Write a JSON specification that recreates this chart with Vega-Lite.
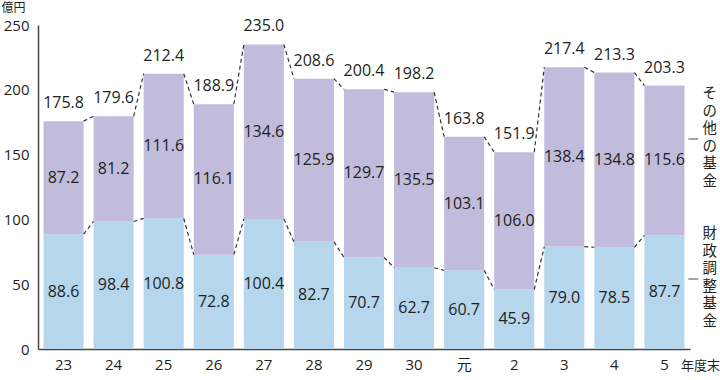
{
  "$schema": "https://vega.github.io/schema/vega-lite/v6.json",
  "width": 652,
  "height": 324,
  "autosize": {"type": "none"},
  "padding": {"left": 38, "top": 25, "right": 30, "bottom": 31},
  "config": {
    "view": {"stroke": null},
    "font": "Open Sans, Noto Sans CJK JP, sans-serif",
    "axis": {"grid": false, "ticks": false, "domainColor": "#444", "domainWidth": 1.5, "labelColor": "#231f20", "labelFontSize": 15, "titleColor": "#231f20", "titleFontWeight": "normal"}
  },
  "datasets": {
    "funds": [
      {"year": "23", "fund": "財政調整基金", "ord": 1, "value": 88.6},
      {"year": "23", "fund": "その他の基金", "ord": 2, "value": 87.2},
      {"year": "24", "fund": "財政調整基金", "ord": 1, "value": 98.4},
      {"year": "24", "fund": "その他の基金", "ord": 2, "value": 81.2},
      {"year": "25", "fund": "財政調整基金", "ord": 1, "value": 100.8},
      {"year": "25", "fund": "その他の基金", "ord": 2, "value": 111.6},
      {"year": "26", "fund": "財政調整基金", "ord": 1, "value": 72.8},
      {"year": "26", "fund": "その他の基金", "ord": 2, "value": 116.1},
      {"year": "27", "fund": "財政調整基金", "ord": 1, "value": 100.4},
      {"year": "27", "fund": "その他の基金", "ord": 2, "value": 134.6},
      {"year": "28", "fund": "財政調整基金", "ord": 1, "value": 82.7},
      {"year": "28", "fund": "その他の基金", "ord": 2, "value": 125.9},
      {"year": "29", "fund": "財政調整基金", "ord": 1, "value": 70.7},
      {"year": "29", "fund": "その他の基金", "ord": 2, "value": 129.7},
      {"year": "30", "fund": "財政調整基金", "ord": 1, "value": 62.7},
      {"year": "30", "fund": "その他の基金", "ord": 2, "value": 135.5},
      {"year": "元", "fund": "財政調整基金", "ord": 1, "value": 60.7},
      {"year": "元", "fund": "その他の基金", "ord": 2, "value": 103.1},
      {"year": "2", "fund": "財政調整基金", "ord": 1, "value": 45.9},
      {"year": "2", "fund": "その他の基金", "ord": 2, "value": 106.0},
      {"year": "3", "fund": "財政調整基金", "ord": 1, "value": 79.0},
      {"year": "3", "fund": "その他の基金", "ord": 2, "value": 138.4},
      {"year": "4", "fund": "財政調整基金", "ord": 1, "value": 78.5},
      {"year": "4", "fund": "その他の基金", "ord": 2, "value": 134.8},
      {"year": "5", "fund": "財政調整基金", "ord": 1, "value": 87.7},
      {"year": "5", "fund": "その他の基金", "ord": 2, "value": 115.6}
    ],
    "totals": [
      {"year": "23", "total": 175.8},
      {"year": "24", "total": 179.6},
      {"year": "25", "total": 212.4},
      {"year": "26", "total": 188.9},
      {"year": "27", "total": 235.0},
      {"year": "28", "total": 208.6},
      {"year": "29", "total": 200.4},
      {"year": "30", "total": 198.2},
      {"year": "元", "total": 163.8},
      {"year": "2", "total": 151.9},
      {"year": "3", "total": 217.4},
      {"year": "4", "total": 213.3},
      {"year": "5", "total": 203.3}
    ],
    "links": [
      {"from": "23", "to": "24", "y1": 88.6, "y2": 98.4},
      {"from": "24", "to": "25", "y1": 98.4, "y2": 100.8},
      {"from": "25", "to": "26", "y1": 100.8, "y2": 72.8},
      {"from": "26", "to": "27", "y1": 72.8, "y2": 100.4},
      {"from": "27", "to": "28", "y1": 100.4, "y2": 82.7},
      {"from": "28", "to": "29", "y1": 82.7, "y2": 70.7},
      {"from": "29", "to": "30", "y1": 70.7, "y2": 62.7},
      {"from": "30", "to": "元", "y1": 62.7, "y2": 60.7},
      {"from": "元", "to": "2", "y1": 60.7, "y2": 45.9},
      {"from": "2", "to": "3", "y1": 45.9, "y2": 79.0},
      {"from": "3", "to": "4", "y1": 79.0, "y2": 78.5},
      {"from": "4", "to": "5", "y1": 78.5, "y2": 87.7},
      {"from": "23", "to": "24", "y1": 175.8, "y2": 179.6},
      {"from": "24", "to": "25", "y1": 179.6, "y2": 212.4},
      {"from": "25", "to": "26", "y1": 212.4, "y2": 188.9},
      {"from": "26", "to": "27", "y1": 188.9, "y2": 235.0},
      {"from": "27", "to": "28", "y1": 235.0, "y2": 208.6},
      {"from": "28", "to": "29", "y1": 208.6, "y2": 200.4},
      {"from": "29", "to": "30", "y1": 200.4, "y2": 198.2},
      {"from": "30", "to": "元", "y1": 198.2, "y2": 163.8},
      {"from": "元", "to": "2", "y1": 163.8, "y2": 151.9},
      {"from": "2", "to": "3", "y1": 151.9, "y2": 217.4},
      {"from": "3", "to": "4", "y1": 217.4, "y2": 213.3},
      {"from": "4", "to": "5", "y1": 213.3, "y2": 203.3}
    ]
  },
  "layer": [
    {
      "data": {"name": "funds"},
      "mark": {"type": "bar"},
      "encoding": {
        "x": {"field": "year", "type": "nominal",
          "scale": {"domain": ["23","24","25","26","27","28","29","30","元","2","3","4","5"], "paddingInner": 0.2, "paddingOuter": 0.11},
          "axis": {"labelAngle": 0, "labelPadding": 8, "labelFontSize": 15, "title": "年度末", "titleFontSize": 13, "titleX": 662, "titleY": 16, "titleAlign": "center", "titleBaseline": "middle"}},
        "y": {"field": "value", "type": "quantitative", "stack": "zero",
          "scale": {"domain": [0, 250], "nice": false},
          "axis": {"values": [0, 50, 100, 150, 200, 250], "labelPadding": 9, "title": "億円", "titleAngle": 0, "titleFontSize": 12, "titleX": -37, "titleY": -18, "titleAlign": "left", "titleBaseline": "middle"}},
        "color": {"field": "fund", "type": "nominal",
          "scale": {"domain": ["その他の基金", "財政調整基金"], "range": ["#c1bcdb", "#b5d6ec"]},
          "legend": {"orient": "none", "legendX": 648, "legendY": 62, "direction": "vertical", "title": null, "padding": 0,
            "symbolType": "stroke", "symbolSize": 100, "symbolStrokeColor": "#666", "symbolStrokeWidth": 1.2,
            "labelExpr": "split(datum.label, '')", "labelFontSize": 14.5, "labelColor": "#231f20", "labelLimit": 0, "labelOffset": 2, "rowPadding": 37,
            "encode": {
              "symbols": {"update": {"stroke": {"value": "#666"}, "strokeWidth": {"value": 1.2}, "y": {"value": 52}}},
              "labels": {"update": {"lineHeight": {"value": 17.5}}}
            }}},
        "order": {"field": "ord", "type": "quantitative"}
      }
    },
    {
      "data": {"name": "funds"},
      "mark": {"type": "text", "fontSize": 16, "color": "#231f20", "baseline": "middle"},
      "encoding": {
        "x": {"field": "year", "type": "nominal", "scale": {"domain": ["23","24","25","26","27","28","29","30","元","2","3","4","5"], "paddingInner": 0.2, "paddingOuter": 0.11}},
        "y": {"field": "value", "type": "quantitative", "stack": "zero", "bandPosition": 0.5, "scale": {"domain": [0, 250], "nice": false}},
        "detail": {"field": "fund"},
        "order": {"field": "ord", "type": "quantitative"},
        "text": {"field": "value", "type": "quantitative", "format": ".1f"}
      }
    },
    {
      "data": {"name": "totals"},
      "mark": {"type": "text", "fontSize": 16, "color": "#231f20", "baseline": "bottom", "dy": -10},
      "encoding": {
        "x": {"field": "year", "type": "nominal", "scale": {"domain": ["23","24","25","26","27","28","29","30","元","2","3","4","5"], "paddingInner": 0.2, "paddingOuter": 0.11}},
        "y": {"field": "total", "type": "quantitative", "scale": {"domain": [0, 250], "nice": false}},
        "text": {"field": "total", "type": "quantitative", "format": ".1f"}
      }
    },
    {
      "data": {"name": "links"},
      "mark": {"type": "rule", "color": "#333", "strokeWidth": 1.2, "strokeDash": [4, 3]},
      "encoding": {
        "x": {"field": "from", "type": "nominal", "bandPosition": 1, "scale": {"domain": ["23","24","25","26","27","28","29","30","元","2","3","4","5"], "paddingInner": 0.2, "paddingOuter": 0.11}},
        "x2": {"field": "to", "bandPosition": 0},
        "y": {"field": "y1", "type": "quantitative", "scale": {"domain": [0, 250], "nice": false}},
        "y2": {"field": "y2"}
      }
    }
  ]
}
